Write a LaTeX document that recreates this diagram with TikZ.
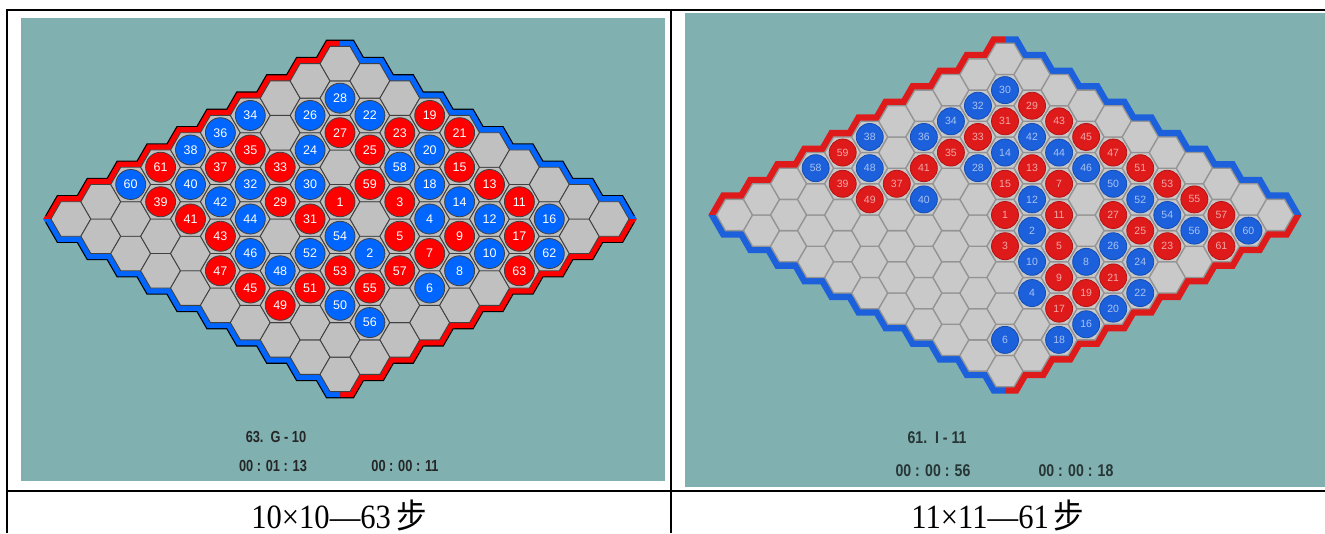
\documentclass[tikz,border=0pt]{standalone}
\usepackage{fontspec}
\setmainfont{Liberation Serif}
\setsansfont{Liberation Sans}
\newfontfamily\cjkfont{Noto Sans CJK SC}
\usepackage{tikz}
\usetikzlibrary{calc,shapes.geometric}
\definecolor{tealScreen}{RGB}{128,176,176}
\definecolor{grisCell}{RGB}{192,192,192}
\definecolor{grisCellJ}{RGB}{201,201,201}
\definecolor{rougeHex}{RGB}{255,0,0}
\definecolor{bleuHex}{RGB}{0,102,255}
\definecolor{rougeJ}{RGB}{222,26,26}
\definecolor{bleuJ}{RGB}{28,96,220}
\colorlet{InkDark}{black!85}
\colorlet{InkSoft}{black!70!tealScreen}
\newcommand\sideL{19.93pt}
\newcommand\halfL{17.26pt}
\newcommand\sideR{18.03pt}
\newcommand\halfR{15.61pt}

\begin{document}
\begin{tikzpicture}[x=1pt,y=-1pt,
    cellL/.style={regular polygon,regular polygon sides=6,minimum size=39.86pt,inner sep=0pt,outer sep=0pt,fill=grisCell,draw=black!75,line width=0.9pt},
    cellR/.style={regular polygon,regular polygon sides=6,minimum size=36.06pt,inner sep=0pt,outer sep=0pt,fill=grisCellJ,draw=black!42,line width=1.3pt},
    bandL/.style={line width=1.2pt,double distance=11pt,draw=black,line join=miter},
    bandR/.style={line width=14pt,line join=miter},
    stoneL/.style={circle,minimum size=30pt,inner sep=0pt,draw=black!75,line width=0.8pt,text=white,font=\sffamily\fontsize{12.5}{12.5}\selectfont},
    stoneR/.style={circle,minimum size=27pt,inner sep=0pt,line width=0.8pt,font=\sffamily\fontsize{10.5}{10.5}\selectfont},
    clockL/.style={text=InkDark,font=\sffamily\bfseries\fontsize{16}{16}\selectfont},
    clockR/.style={text=InkSoft,font=\sffamily\bfseries\fontsize{17}{17}\selectfont},
    caption/.style={text=black,font=\fontsize{34}{34}\selectfont}]
  \useasboundingbox (0,0) rectangle (1325,533);
  \fill[tealScreen] (21,18) rectangle (665,481);
  \fill[tealScreen] (685,13) rectangle (1325,487);

  \begin{scope}[shift={(70.9pt,-219pt)},x={(29.9pt,17.26pt)},y={(29.9pt,-17.26pt)}]
    \draw[bandL,double=rougeHex] ($(0,0)+(180:\sideL)$) \foreach \i in {0,...,8}{ -- ($(\i,0)+(120:\sideL)$) -- ($(\i,0)+(60:\sideL)$)} -- ($(9,0)+(120:\sideL)$) -- ($(9,0)+(90:\halfL)$);
    \draw[bandL,double=bleuHex] ($(9,0)+(90:\halfL)$) \foreach \j in {0,...,9}{ -- ($(9,\j)+(60:\sideL)$) -- ($(9,\j)+(0:\sideL)$)};
    \draw[bandL,double=rougeHex] ($(9,9)+(0:\sideL)$) \foreach \i in {9,...,1}{ -- ($(\i,9)+(300:\sideL)$) -- ($(\i,9)+(240:\sideL)$)} -- ($(0,9)+(300:\sideL)$) -- ($(0,9)+(270:\halfL)$);
    \draw[bandL,double=bleuHex] ($(0,0)+(180:\sideL)$) \foreach \j in {0,...,8}{ -- ($(0,\j)+(240:\sideL)$) -- ($(0,\j)+(300:\sideL)$)} -- ($(0,9)+(240:\sideL)$) -- ($(0,9)+(270:\halfL)$);
    \coordinate (tipL-w) at ($(0,0)+(180:\sideL)$);
    \coordinate (tipL-e) at ($(9,9)+(0:\sideL)$);
    \fill[rougeHex] (tipL-w) -- ++(150:6.7pt) -- ($(tipL-w)+(180:7.74pt)$) -- cycle;
    \fill[bleuHex] (tipL-w) -- ++(210:6.7pt) -- ($(tipL-w)+(180:7.74pt)$) -- cycle;
    \fill[bleuHex] (tipL-e) -- ++(30:6.7pt) -- ($(tipL-e)+(0:7.74pt)$) -- cycle;
    \fill[rougeHex] (tipL-e) -- ++(330:6.7pt) -- ($(tipL-e)+(0:7.74pt)$) -- cycle;
    \foreach \i in {0,...,9}
      \foreach \j in {0,...,9}
        \node[cellL] (L-\i-\j) at (\i,\j) {};
    \foreach \n/\i/\j in {1/5/4,2/4/6,3/6/5,4/6/6,5/5/6,6/4/8,7/5/7,8/5/8,9/6/7,10/6/8,
        11/8/7,12/7/7,13/8/6,14/7/6,15/8/5,16/8/8,17/7/8,18/7/5,19/9/3,20/8/4,
        21/9/4,22/8/2,23/8/3,24/6/2,25/7/3,26/7/1,27/7/2,28/8/1,29/4/3,30/5/3,
        31/4/4,32/4/2,33/5/2,34/6/0,35/5/1,36/5/0,37/4/1,38/4/0,39/2/1,40/3/1,
        41/2/2,42/3/2,43/2/3,44/3/3,45/1/5,46/2/4,47/1/4,48/2/5,49/1/6,50/2/7,
        51/2/6,52/3/5,53/3/6,54/4/5,55/3/7,56/2/8,57/4/7,58/7/4,59/6/4,60/2/0,
        61/3/0,62/7/9,63/6/9}{
      \ifodd\n\colorlet{StoneFill}{rougeHex}\else\colorlet{StoneFill}{bleuHex}\fi
      \node[stoneL,fill=StoneFill] (sL-\n) at (\i,\j) {\n};
    }
  \end{scope}

  \begin{scope}[shift={(734.5pt,-215pt)},x={(27.05pt,15.61pt)},y={(27.05pt,-15.61pt)}]
    \draw[bandR,rougeJ] ($(0,0)+(180:\sideR)$) \foreach \i in {0,...,9}{ -- ($(\i,0)+(120:\sideR)$) -- ($(\i,0)+(60:\sideR)$)} -- ($(10,0)+(120:\sideR)$) -- ($(10,0)+(90:\halfR)$);
    \draw[bandR,bleuJ] ($(10,0)+(90:\halfR)$) \foreach \j in {0,...,10}{ -- ($(10,\j)+(60:\sideR)$) -- ($(10,\j)+(0:\sideR)$)};
    \draw[bandR,rougeJ] ($(10,10)+(0:\sideR)$) \foreach \i in {10,...,1}{ -- ($(\i,10)+(300:\sideR)$) -- ($(\i,10)+(240:\sideR)$)} -- ($(0,10)+(300:\sideR)$) -- ($(0,10)+(270:\halfR)$);
    \draw[bandR,bleuJ] ($(0,0)+(180:\sideR)$) \foreach \j in {0,...,9}{ -- ($(0,\j)+(240:\sideR)$) -- ($(0,\j)+(300:\sideR)$)} -- ($(0,10)+(240:\sideR)$) -- ($(0,10)+(270:\halfR)$);
    \coordinate (tipR-w) at ($(0,0)+(180:\sideR)$);
    \coordinate (tipR-e) at ($(10,10)+(0:\sideR)$);
    \fill[rougeJ] (tipR-w) -- ++(150:7pt) -- ($(tipR-w)+(180:8.08pt)$) -- cycle;
    \fill[bleuJ] (tipR-w) -- ++(210:7pt) -- ($(tipR-w)+(180:8.08pt)$) -- cycle;
    \fill[bleuJ] (tipR-e) -- ++(30:7pt) -- ($(tipR-e)+(0:8.08pt)$) -- cycle;
    \fill[rougeJ] (tipR-e) -- ++(330:7pt) -- ($(tipR-e)+(0:8.08pt)$) -- cycle;
    \foreach \i in {0,...,10}
      \foreach \j in {0,...,10}
        \node[cellR] (R-\i-\j) at (\i,\j) {};
    \foreach \n/\i/\j in {1/5/5,2/5/6,3/4/6,4/3/8,5/5/7,6/1/9,7/7/5,8/5/8,9/4/8,10/4/7,
        11/6/6,12/6/5,13/7/4,14/7/3,15/6/4,16/3/10,17/3/9,18/2/10,19/4/9,20/4/10,
        21/5/9,22/5/10,23/7/9,24/6/9,25/7/8,26/6/8,27/7/7,28/6/3,29/9/2,30/9/1,
        31/8/2,32/8/1,33/7/2,34/7/1,35/6/2,36/6/1,37/4/2,38/5/0,39/3/1,40/4/3,
        41/5/2,42/8/3,43/9/3,44/8/4,45/9/4,46/8/5,47/9/5,48/4/1,49/3/2,50/8/6,
        51/9/6,52/8/7,53/9/7,54/8/8,55/9/8,56/8/9,57/9/9,58/3/0,59/4/0,60/9/10,
        61/8/10}{
      \ifodd\n\colorlet{StoneFill}{rougeJ}\else\colorlet{StoneFill}{bleuJ}\fi
      \node[stoneR,fill=StoneFill,draw=StoneFill!80!black,text=white!62!StoneFill] (sR-\n) at (\i,\j) {\n};
    }
  \end{scope}

  \node[clockL] (moveL) at (276,437) {\scalebox{0.8}[1]{63.~~G - 10}};
  \node[clockL] (timeL-a) at (273,466) {\scalebox{0.8}[1]{00 : 01 : 13}};
  \node[clockL] (timeL-b) at (405,466) {\scalebox{0.8}[1]{00 : 00 : 11}};
  \node[clockR] (moveR) at (937,438) {\scalebox{0.83}[1]{61.~~I - 11}};
  \node[clockR] (timeR-a) at (933,471) {\scalebox{0.83}[1]{00 : 00 : 56}};
  \node[clockR] (timeR-b) at (1076,471) {\scalebox{0.83}[1]{00 : 00 : 18}};

  \draw[line width=2pt] (7,10) -- (1325,10);
  \draw[line width=2pt] (7,490.5) -- (1325,490.5);
  \draw[line width=1.2pt] (7,9) -- (7,533);
  \draw[line width=1.2pt] (671,9) -- (671,533);

  \node[caption] (capL) at (339,515) {\scalebox{0.9}[1]{10×10—63\,{\cjkfont 步}}};
  \node[caption] (capR) at (998,515) {\scalebox{0.9}[1]{11×11—61\,{\cjkfont 步}}};
\end{tikzpicture}
\end{document}
